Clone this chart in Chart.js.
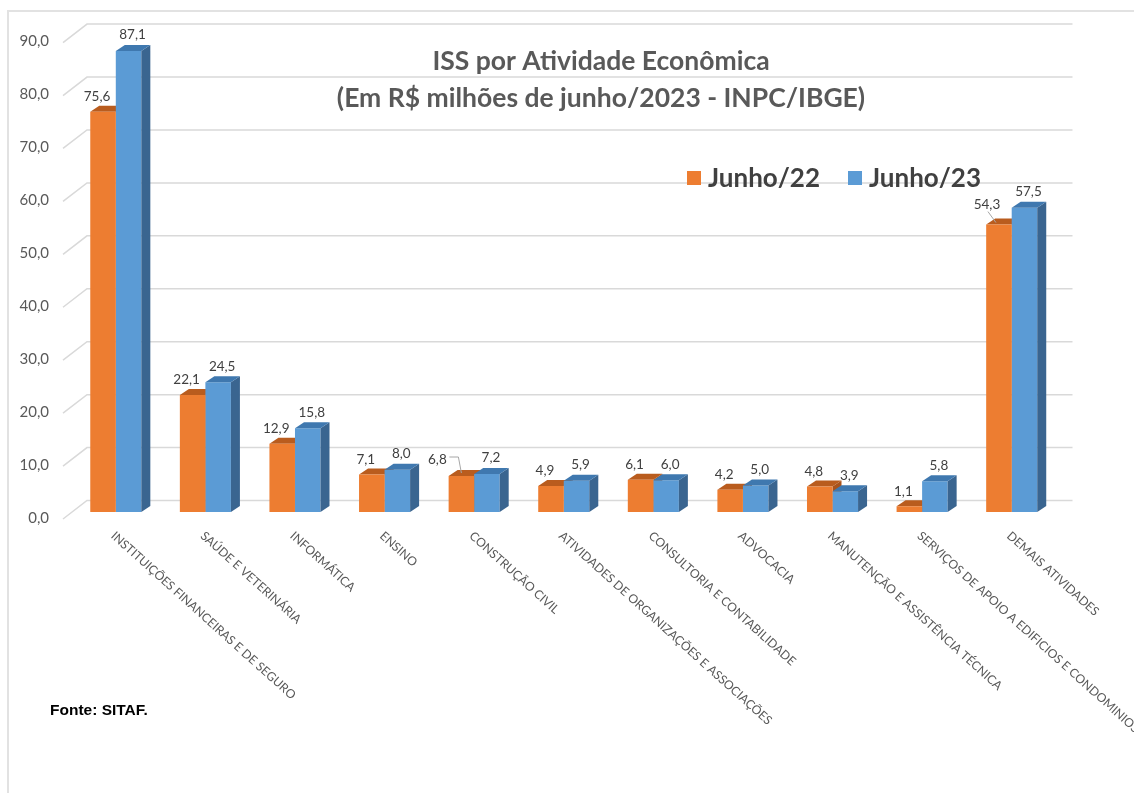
<!DOCTYPE html>
<html>
<head>
<meta charset="utf-8">
<script src="https://cdn.jsdelivr.net/npm/chart.js@4.4.1/dist/chart.umd.min.js"></script>
<style>
html, body { margin: 0; padding: 0; background: #fff; overflow: hidden; }
#wrap { position: relative; width: 1134px; height: 793px; overflow: hidden; }
#moldura { position: absolute; left: 7px; top: 10px; width: 1300px; height: 900px;
  border-left: 2px solid #e2e2e2; border-top: 2px solid #e2e2e2; }
#grafico { position: absolute; left: 0; top: 0; }
#fonte { position: absolute; left: 50px; top: 701px; font: bold 15.5px "Liberation Sans", Arial, sans-serif; color: #000; }
</style>
</head>
<body>
<div id="wrap">
  <div id="moldura"></div>
  <canvas id="grafico" width="1134" height="793"></canvas>
  <div id="fonte">Fonte: SITAF.</div>
</div>
<script>
const categorias = [
  'INSTITUIÇÕES FINANCEIRAS E DE SEGURO',
  'SAÚDE E VETERINÁRIA',
  'INFORMÁTICA',
  'ENSINO',
  'CONSTRUÇÃO CIVIL',
  'ATIVIDADES DE ORGANIZAÇÕES E ASSOCIAÇÕES',
  'CONSULTORIA E CONTABILIDADE',
  'ADVOCACIA',
  'MANUTENÇÃO E ASSISTÊNCIA TÉCNICA',
  'SERVIÇOS DE APOIO A EDIFICIOS E CONDOMINIOS',
  'DEMAIS ATIVIDADES'
]
const junho22 = [75.6, 22.1, 12.9, 7.1, 6.8, 4.9, 6.1, 4.2, 4.8, 1.1, 54.3]
const junho23 = [87.1, 24.5, 15.8, 8.0, 7.2, 5.9, 6.0, 5.0, 3.9, 5.8, 57.5]
const ticksY = [0, 10, 20, 30, 40, 50, 60, 70, 80, 90]
const titulo = ['ISS por Atividade Econômica', '(Em R$ milhões de junho/2023 - INPC/IBGE)']

const fmt = v => v.toFixed(1).replace('.', ',')

// profundidade do efeito 3D
const DX = 9, DY = -6
const corTopo = ['#B95C1E', '#3F78AF']
const corLado = ['#A9531B', '#3A6590']

// rotulos com linha guia (serie-indice)
const guias = { '0-4': { dx: -24, dy: -16 }, '0-10': { dx: -12, dy: -20 } }

function poligono(ctx, pts, cor) {
  ctx.beginPath()
  ctx.moveTo(pts[0][0], pts[0][1])
  for (let k = 1; k < pts.length; k++) ctx.lineTo(pts[k][0], pts[k][1])
  ctx.closePath()
  ctx.fillStyle = cor
  ctx.fill()
}

function ladoTopo(chart, d) {
  const ctx = chart.ctx
  chart.getDatasetMeta(d).data.forEach(bar => {
    const x0 = bar.x - bar.width / 2, x1 = bar.x + bar.width / 2
    const t = bar.y, b = bar.base
    poligono(ctx, [[x1, t], [x1 + DX, t + DY], [x1 + DX, b + DY], [x1, b]], corLado[d])
    poligono(ctx, [[x0, t], [x1, t], [x1 + DX, t + DY], [x0 + DX, t + DY]], corTopo[d])
  })
}

const efeito3d = {
  id: 'efeito3d',
  beforeDatasetsDraw(chart) {
    const ctx = chart.ctx, a = chart.chartArea, y = chart.scales.y
    ctx.save()
    ctx.strokeStyle = '#d9d9d9'
    ctx.lineWidth = 1.5
    ticksY.forEach(v => {
      const py = y.getPixelForValue(v)
      ctx.beginPath()
      ctx.moveTo(a.left - 8, py + 7)
      ctx.lineTo(a.left + 16, py - 11.5)
      ctx.lineTo(a.right + 16, py - 11.5)
      ctx.stroke()
    })
    ladoTopo(chart, 0)
    ctx.restore()
  },
  afterDatasetsDraw(chart) {
    const ctx = chart.ctx
    ctx.save()
    ladoTopo(chart, 1)
    // valores
    ctx.font = '13.5px Lato'
    ctx.fillStyle = '#404040'
    ctx.textAlign = 'center'
    ctx.textBaseline = 'middle'
    chart.data.datasets.forEach((ds, d) => {
      chart.getDatasetMeta(d).data.forEach((bar, i) => {
        const g = guias[d + '-' + i]
        let lx = bar.x + (d === 0 ? -6 : 4)
        let ly = bar.y - (d === 0 ? 15 : 16)
        if (g) {
          lx = bar.x + g.dx
          ly = bar.y + g.dy
          ctx.strokeStyle = '#a6a6a6'
          ctx.lineWidth = 1
          ctx.beginPath()
          if (i === 4) {
            ctx.moveTo(lx + 12, ly - 3)
            ctx.lineTo(lx + 21, ly - 3)
            ctx.lineTo(bar.x, bar.y - 3)
          } else {
            ctx.moveTo(lx + 1, ly + 7)
            ctx.lineTo(bar.x - 3, bar.y - 2)
          }
          ctx.stroke()
        }
        ctx.fillText(fmt(ds.data[i]), lx, ly)
      })
    })
    ctx.restore()
  },
  afterDraw(chart) {
    const ctx = chart.ctx, a = chart.chartArea, xs = chart.scales.x
    ctx.save()
    // rotulos das categorias
    ctx.font = '12.2px Lato'
    ctx.fillStyle = '#595959'
    ctx.textAlign = 'left'
    ctx.textBaseline = 'middle'
    categorias.forEach((c, i) => {
      ctx.save()
      ctx.translate(xs.getPixelForValue(i) - 3, a.bottom + 22)
      ctx.rotate(42 * Math.PI / 180)
      ctx.fillText(c, 0, 0)
      ctx.restore()
    })
    // titulo
    ctx.font = 'bold 26.5px Lato'
    ctx.fillStyle = '#595959'
    ctx.textAlign = 'center'
    ctx.fillText(titulo[0], 601, 61)
    ctx.fillText(titulo[1], 601, 98)
    // legenda
    ctx.font = 'bold 26px Lato'
    ctx.textAlign = 'left'
    let lx = 687
    chart.data.datasets.forEach(ds => {
      ctx.fillStyle = ds.backgroundColor
      ctx.fillRect(lx, 171, 14, 14)
      ctx.fillStyle = '#404040'
      ctx.fillText(ds.label, lx + 21, 179)
      lx += 21 + ctx.measureText(ds.label).width + 28
    })
    ctx.restore()
  }
}

const ctx = document.getElementById('grafico')
let grafico = new Chart(ctx, {
  type: 'bar',
  data: {
    labels: categorias,
    datasets: [{
      label: 'Junho/22',
      data: junho22,
      backgroundColor: '#ED7D31',
      borderWidth: 0
    }, {
      label: 'Junho/23',
      data: junho23,
      backgroundColor: '#5B9BD5',
      borderWidth: 0
    }]
  },
  options: {
    responsive: false,
    animation: false,
    devicePixelRatio: 1,
    categoryPercentage: 0.57,
    barPercentage: 1,
    layout: { padding: { left: 0, top: 35.6, right: 77.5, bottom: 281 } },
    plugins: {
      legend: { display: false },
      tooltip: { enabled: false }
    },
    scales: {
      x: { display: false },
      y: {
        min: 0,
        max: 90,
        afterBuildTicks: s => { s.ticks = ticksY.map(v => ({ value: v })) },
        afterFit: s => { s.width = 71 },
        grid: { display: false, drawTicks: false },
        border: { display: false },
        ticks: {
          padding: 22,
          labelOffset: 6,
          color: '#595959',
          font: { family: 'Lato', size: 15 },
          callback: v => fmt(v)
        }
      }
    }
  },
  plugins: [efeito3d]
})
</script>
</body>
</html>
